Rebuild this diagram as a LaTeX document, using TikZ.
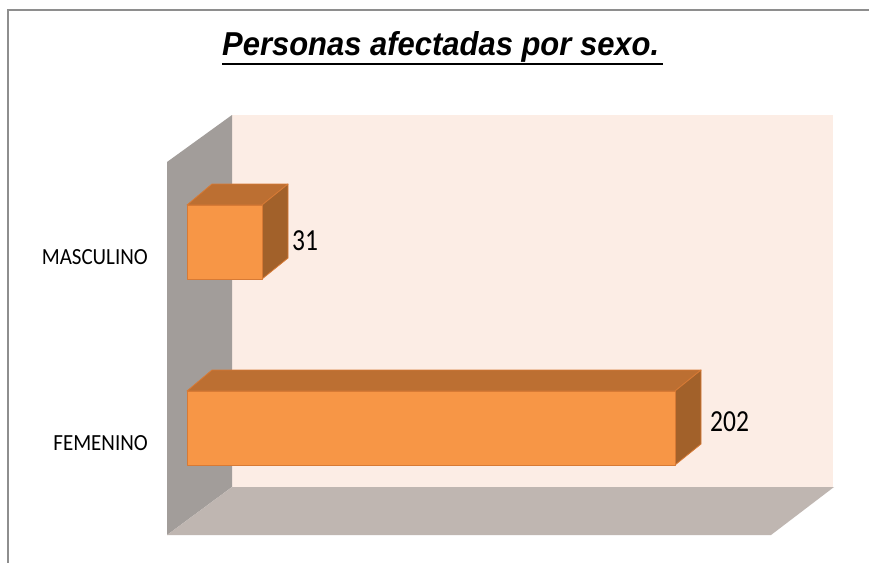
\documentclass[tikz,border=0pt]{standalone}
\usepackage{fontspec}
\usepackage{graphicx}
\setmainfont{Carlito}
\newfontfamily\titlefont{Liberation Sans}
\definecolor{frontc}{HTML}{F79646}
\definecolor{topc}{HTML}{BC6F32}
\definecolor{sidec}{HTML}{A2612A}
\definecolor{edgec}{HTML}{D77A35}
\definecolor{backwall}{HTML}{FCEDE5}
\definecolor{sidewall}{HTML}{A29D9A}
\definecolor{floorc}{HTML}{BFB6B1}
\definecolor{framec}{HTML}{8E8E8E}
\begin{document}
\begin{tikzpicture}[x=1pt,y=-1pt,
  barface/.style={line width=0.8pt,draw=edgec,line join=round},
  catlabel/.style={anchor=base east,inner sep=0pt},
  vallabel/.style={anchor=base west,inner sep=0pt}]
\useasboundingbox (0,0) rectangle (869,562);
\fill[white] (0,0) rectangle (869,562);
% outer frame
\draw[framec,line width=2pt] (7.5,570) -- (7.5,10) -- (875,10);
% title
\node[anchor=base west,inner sep=0pt] (title) at (222,55)
  {\resizebox{437pt}{24pt}{\titlefont\bfseries\itshape Personas afectadas por sexo.}};
\draw[line width=2.4pt] (222,64) -- (663,64);
% walls
\fill[backwall] (232,115) rectangle (833,487);
\fill[sidewall] (167,162) -- (232,115) -- (232,487) -- (167,535) -- cycle;
\fill[floorc] (232,487) -- (834,487) -- (771,535) -- (167,535) -- cycle;
% bar masculino
\path[barface,fill=topc] (187,205) -- (212,184) -- (288,184) -- (262,205) -- cycle;
\path[barface,fill=sidec] (262,205) -- (288,184) -- (288,258) -- (262,279) -- cycle;
\path[barface,fill=frontc] (187,205) rectangle (262,279);
% bar femenino
\path[barface,fill=topc] (187,391) -- (212,370) -- (701,370) -- (675,391) -- cycle;
\path[barface,fill=sidec] (675,391) -- (701,370) -- (701,444) -- (675,465) -- cycle;
\path[barface,fill=frontc] (187,391) rectangle (675,465);
% category labels
\node[catlabel] (masc) at (148,264) {\scalebox{1}[1.1]{\fontsize{21}{25}\selectfont MASCULINO}};
\node[catlabel] (fem) at (148,450) {\scalebox{1}[1.1]{\fontsize{21}{25}\selectfont FEMENINO}};
% value labels
\node[vallabel] (v31) at (292,250) {\scalebox{1}[1.2]{\fontsize{25.5}{30}\selectfont 31}};
\node[vallabel] (v202) at (710,431) {\scalebox{1}[1.2]{\fontsize{25.5}{30}\selectfont 202}};
\end{tikzpicture}
\end{document}
